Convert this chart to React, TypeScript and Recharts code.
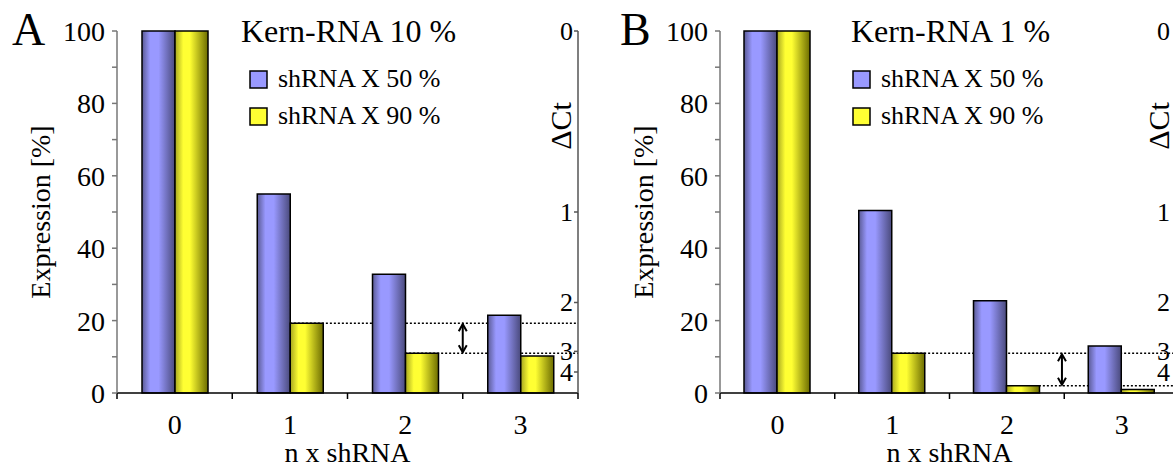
import React from 'react'
import { BarChart, Bar, XAxis, YAxis, ReferenceLine } from 'recharts'

const FONT = '"Liberation Serif", "Times New Roman", serif'

const categories = ['0', '1', '2', '3']
// panel A, Kern-RNA 10 %
const kern10Shrna50 = [100, 55, 32.8, 21.5]
const kern10Shrna90 = [100, 19.3, 11, 10.2]
// panel B, Kern-RNA 1 %
const kern1Shrna50 = [100, 50.4, 25.5, 13]
const kern1Shrna90 = [100, 11, 2, 1]

const expressionTicks = [0, 10, 20, 30, 40, 50, 60, 70, 80, 90, 100]
const dctTicks = [100, 50, 25, 11.5, 5.8]
const dctLabels = ['0', '1', '2', '3', '4']
const boundaryTicks = [-0.5, 0.5, 1.5, 2.5, 3.5]
const seriesNames = ['shRNA X 50 %', 'shRNA X 90 %']

const W = 603
const H = 467

type PanelProps = {
  letter: string
  title: string
  s50: number[]
  s90: number[]
  left: number
  rightGap: number
  labelGap: number
  letterX: number
  titleX: number
  arrowX: number
  dctX: number
}

function ArrowShape(p: any) {
  const x = p.x1
  const ya = Math.min(p.y1, p.y2)
  const yb = Math.max(p.y1, p.y2)
  return (
    <g stroke="#000" strokeWidth={2} fill="none">
      <line x1={x} x2={x} y1={ya + 1} y2={yb - 1} />
      <polyline points={`${x - 4},${ya + 8} ${x},${ya + 1} ${x + 4},${ya + 8}`} />
      <polyline points={`${x - 4},${yb - 8} ${x},${yb - 1} ${x + 4},${yb - 8}`} />
    </g>
  )
}

function BoundaryTick(p: any) {
  const yb = Math.max(p.y1, p.y2)
  return <line x1={p.x1} x2={p.x1} y1={yb} y2={yb + 6} stroke="#000" strokeWidth={1.5} />
}

// ΔCt ticks sit inside the plot, left of the right axis line
function makeDctTick(label: string, gap: number) {
  return function DctTick(p: any) {
    const x = Math.max(p.x1, p.x2)
    const y = p.y1
    return (
      <g>
        <line x1={x - 4} x2={x} y1={y} y2={y} stroke="#555" strokeWidth={1.5} />
        <text x={x - gap} y={y} dy="0.33em" textAnchor="end" fontSize={26} fontFamily={FONT} fill="#000">
          {label}
        </text>
      </g>
    )
  }
}

function Panel({ letter, title, s50, s90, left, rightGap, labelGap, letterX, titleX, arrowX, dctX }: PanelProps) {
  const data = categories.map((cat, i) => ({ cat, pos: i, s50: s50[i], s90: s90[i] }))
  const guides = [1, 2].map((i) => ({ from: i, level: s90[i] }))
  const blue = `blue${letter}`
  const yellow = `yellow${letter}`
  return (
    <div style={{ position: 'absolute', left, top: 0, width: W, height: H, fontFamily: FONT }}>
      <BarChart width={W} height={H} data={data} margin={{ top: 31, right: rightGap, bottom: 0, left: 0 }} barGap={0} style={{ fontFamily: FONT }}>
        <defs>
          <linearGradient id={blue} x1="0" y1="0" x2="1" y2="0">
            <stop offset="0%" stopColor="#5a5a94" />
            <stop offset="25%" stopColor="#9999ff" />
            <stop offset="50%" stopColor="#9999ff" />
            <stop offset="100%" stopColor="#4a4a7c" />
          </linearGradient>
          <linearGradient id={yellow} x1="0" y1="0" x2="1" y2="0">
            <stop offset="0%" stopColor="#a6a620" />
            <stop offset="25%" stopColor="#ffff33" />
            <stop offset="45%" stopColor="#ffff33" />
            <stop offset="100%" stopColor="#6c6c00" />
          </linearGradient>
        </defs>
        <XAxis
          xAxisId="cat"
          dataKey="cat"
          height={74}
          tickLine={false}
          tickSize={0}
          tickMargin={21}
          axisLine={{ stroke: '#000', strokeWidth: 1.5 }}
          tick={{ fill: '#000', fontSize: 28, fontFamily: FONT }}
          label={{ value: 'n x shRNA', position: 'insideBottom', offset: 5, fill: '#000', fontSize: 28, fontFamily: FONT }}
        />
        <XAxis xAxisId="num" type="number" dataKey="pos" domain={[-0.5, 3.5]} allowDataOverflow hide />
        <YAxis
          yAxisId="l"
          width={117}
          domain={[0, 100]}
          ticks={expressionTicks}
          interval={0}
          tickSize={5}
          tickMargin={7}
          tickFormatter={(v: number) => (v % 20 === 0 ? String(v) : '')}
          axisLine={{ stroke: '#777', strokeWidth: 1.5 }}
          tickLine={{ stroke: '#777', strokeWidth: 1.5 }}
          tick={{ fill: '#000', fontSize: 28, fontFamily: FONT }}
          label={{
            value: 'Expression [%]',
            angle: -90,
            position: 'insideLeft',
            offset: 40,
            fill: '#000',
            fontSize: 28,
            fontFamily: FONT,
            style: { textAnchor: 'middle', fontFamily: FONT },
          }}
        />
        <YAxis
          yAxisId="r"
          orientation="right"
          width={25}
          domain={[0, 100]}
          tick={false}
          tickLine={false}
          axisLine={{ stroke: '#555', strokeWidth: 1.5 }}
        />
        {boundaryTicks.map((b) => (
          <ReferenceLine key={`b${b}`} xAxisId="num" yAxisId="l" x={b} shape={BoundaryTick} />
        ))}
        {dctTicks.map((v, i) => (
          <ReferenceLine key={`d${v}`} xAxisId="num" yAxisId="l" y={v} shape={makeDctTick(dctLabels[i], labelGap)} />
        ))}
        {guides.map((g) => (
          <ReferenceLine
            key={`g${g.from}`}
            xAxisId="num"
            yAxisId="l"
            segment={[{ x: g.from, y: g.level }, { x: 3.5, y: g.level }]}
            stroke="#000"
            strokeWidth={1.5}
            strokeDasharray="2 2"
            zIndex={200}
          />
        ))}
        <Bar xAxisId="cat" yAxisId="l" dataKey="s50" barSize={33} fill={`url(#${blue})`} stroke="#000" strokeWidth={1.5} isAnimationActive={false} />
        <Bar xAxisId="cat" yAxisId="l" dataKey="s90" barSize={33} fill={`url(#${yellow})`} stroke="#000" strokeWidth={1.5} isAnimationActive={false} />
        <ReferenceLine
          xAxisId="num"
          yAxisId="l"
          segment={[{ x: arrowX, y: guides[0].level }, { x: arrowX, y: guides[1].level }]}
          shape={ArrowShape}
        />
      </BarChart>
      <svg width={W} height={H} style={{ position: 'absolute', left: 0, top: 0, pointerEvents: 'none' }} fontFamily={FONT}>
        <text x={letterX} y={45} fontSize={46} fill="#000">{letter}</text>
        <text x={titleX} y={42} fontSize={32} fill="#000">{title}</text>
        <rect x={250} y={71} width={17} height={17} fill="#9999ff" stroke="#000" strokeWidth={1.5} />
        <text x={278} y={87} fontSize={26} fill="#000">{seriesNames[0]}</text>
        <rect x={250} y={108} width={17} height={17} fill="#ffff33" stroke="#000" strokeWidth={1.5} />
        <text x={278} y={124} fontSize={26} fill="#000">{seriesNames[1]}</text>
        <text x={dctX} y={126} fontSize={30} fill="#000" textAnchor="middle" transform={`rotate(-90 ${dctX} 126)`}>ΔCt</text>
      </svg>
    </div>
  )
}

export default function App() {
  return (
    <div style={{ position: 'absolute', left: 0, top: 0, width: 1173, height: 467, overflow: 'hidden', background: '#fff' }}>
      <Panel letter="A" title="Kern-RNA 10 %" s50={kern10Shrna50} s90={kern10Shrna90} left={0} rightGap={0} labelGap={5} letterX={12} titleX={241} arrowX={2.5} dctX={571} />
      <Panel letter="B" title="Kern-RNA 1 %" s50={kern1Shrna50} s90={kern1Shrna90} left={603} rightGap={2} labelGap={9} letterX={17} titleX={248} arrowX={2.48} dctX={566} />
    </div>
  )
}
